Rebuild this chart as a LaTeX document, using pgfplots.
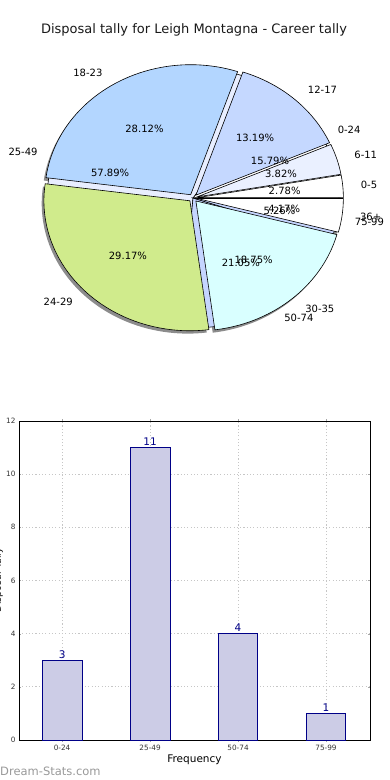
\documentclass[border=0pt]{standalone}
\usepackage{pgfplots}
\pgfplotsset{compat=1.18}
\usepackage{fontspec}
\setmainfont{DejaVu Sans}
\definecolor{cA}{RGB}{255,255,255}
\definecolor{cB}{RGB}{234,240,255}
\definecolor{cC}{RGB}{197,216,255}
\definecolor{cD}{RGB}{179,214,255}
\definecolor{cE}{RGB}{208,235,140}
\definecolor{cF}{RGB}{217,255,255}
\definecolor{cG}{RGB}{255,255,255}
\definecolor{fA}{RGB}{255,255,255}
\definecolor{fB}{RGB}{232,238,255}
\definecolor{fC}{RGB}{197,213,255}
\definecolor{fD}{RGB}{197,213,255}
\definecolor{barfill}{RGB}{204,204,230}
\definecolor{navyc}{RGB}{0,0,135}
% wedge: start, end, fill, explode
\newcommand\wedgeplot[4]{%
  \addplot[fill=#3, draw=black, line width=0.6pt, domain=#1:#2, samples=50, variable=\t]
    ({#4*cos((#1+#2)/2)+cos(\t)},{#4*sin((#1+#2)/2)+sin(\t)})
    -- (axis cs:{#4*cos((#1+#2)/2)},{#4*sin((#1+#2)/2)}) -- cycle;}
\newcommand\shadowplot[3]{%
  \addplot[fill=black, fill opacity=0.45, draw=none, domain=#1:#2, samples=50, variable=\t]
    ({#3*cos((#1+#2)/2)+cos(\t)-0.015},{#3*sin((#1+#2)/2)+sin(\t)-0.022})
    -- (axis cs:{#3*cos((#1+#2)/2)-0.015},{#3*sin((#1+#2)/2)-0.022}) -- cycle;}
\begin{document}
\begin{tikzpicture}
\useasboundingbox (0pt,0pt) rectangle (390pt,-780pt);
% age-group shares (percent)
\pgfmathsetmacro\aA{0}
\pgfmathsetmacro\aB{\aA+3.6*2.78}
\pgfmathsetmacro\aC{\aB+3.6*3.82}
\pgfmathsetmacro\aD{\aC+3.6*13.19}
\pgfmathsetmacro\aE{\aD+3.6*28.12}
\pgfmathsetmacro\aF{\aE+3.6*29.17}
\pgfmathsetmacro\aG{\aF+3.6*18.75}
\pgfmathsetmacro\aH{\aG+3.6*4.17}
% frequency shares (percent)
\pgfmathsetmacro\bA{0}
\pgfmathsetmacro\bB{\bA+3.6*15.79}
\pgfmathsetmacro\bC{\bB+3.6*57.89}
\pgfmathsetmacro\bD{\bC+3.6*21.05}
\pgfmathsetmacro\bE{\bD+3.6*5.26}
\node[font=\fontsize{13}{15}\selectfont, text=black!90] at (194pt,-30pt) {Disposal tally for Leigh Montagna - Career tally};
\begin{axis}[at={(3.2pt,-367pt)}, anchor=south west, scale only axis, width=379.6pt, height=338pt,
  xmin=-1.3, xmax=1.3, ymin=-1.3, ymax=1.3, axis lines=none, clip=false,
  every node/.append style={font=\fontsize{10.3}{12}\selectfont, text=black!90}]
\shadowplot{\aA}{\aB}{0.03}
\shadowplot{\aB}{\aC}{0.03}
\shadowplot{\aC}{\aD}{0.03}
\shadowplot{\aD}{\aE}{0.03}
\shadowplot{\aE}{\aF}{0.03}
\shadowplot{\aF}{\aG}{0.03}
\shadowplot{\aG}{\aH}{0.03}
\wedgeplot{\bA}{\bB}{fA}{0}
\wedgeplot{\bB}{\bC}{fB}{0}
\wedgeplot{\bC}{\bD}{fC}{0}
\wedgeplot{\bD}{\bE}{fD}{0}
\wedgeplot{\aA}{\aB}{cA}{0.03}
\wedgeplot{\aB}{\aC}{cB}{0.03}
\wedgeplot{\aC}{\aD}{cC}{0.03}
\wedgeplot{\aD}{\aE}{cD}{0.03}
\wedgeplot{\aE}{\aF}{cE}{0.03}
\wedgeplot{\aF}{\aG}{cF}{0.03}
\wedgeplot{\aG}{\aH}{cG}{0.03}
% age labels
\node[anchor=west] at (axis cs:{1.13*cos((\aA+\aB)/2)},{1.13*sin((\aA+\aB)/2)}) {0-5};
\node[anchor=west] at (axis cs:{1.13*cos((\aB+\aC)/2)},{1.13*sin((\aB+\aC)/2)}) {6-11};
\node[anchor=west] at (axis cs:{1.13*cos((\aC+\aD)/2)},{1.13*sin((\aC+\aD)/2)}) {12-17};
\node[anchor=east] at (axis cs:{1.13*cos((\aD+\aE)/2)},{1.13*sin((\aD+\aE)/2)}) {18-23};
\node[anchor=east] at (axis cs:{1.13*cos((\aE+\aF)/2)},{1.13*sin((\aE+\aF)/2)}) {24-29};
\node[anchor=west] at (axis cs:{1.13*cos((\aF+\aG)/2)},{1.13*sin((\aF+\aG)/2)}) {30-35};
\node[anchor=west] at (axis cs:{1.13*cos((\aG+\aH)/2)},{1.13*sin((\aG+\aH)/2)}) {36+};
\node at (axis cs:{0.63*cos((\aA+\aB)/2)},{0.63*sin((\aA+\aB)/2)}) {2.78\%};
\node at (axis cs:{0.63*cos((\aB+\aC)/2)},{0.63*sin((\aB+\aC)/2)}) {3.82\%};
\node at (axis cs:{0.63*cos((\aC+\aD)/2)},{0.63*sin((\aC+\aD)/2)}) {13.19\%};
\node at (axis cs:{0.63*cos((\aD+\aE)/2)},{0.63*sin((\aD+\aE)/2)}) {28.12\%};
\node at (axis cs:{0.63*cos((\aE+\aF)/2)},{0.63*sin((\aE+\aF)/2)}) {29.17\%};
\node at (axis cs:{0.63*cos((\aF+\aG)/2)},{0.63*sin((\aF+\aG)/2)}) {18.75\%};
\node at (axis cs:{0.63*cos((\aG+\aH)/2)},{0.63*sin((\aG+\aH)/2)}) {4.17\%};
% frequency labels
\node[anchor=west] at (axis cs:{1.1*cos((\bA+\bB)/2)},{1.1*sin((\bA+\bB)/2)}) {0-24};
\node[anchor=east] at (axis cs:{1.1*cos((\bB+\bC)/2)},{1.1*sin((\bB+\bC)/2)}) {25-49};
\node[anchor=west] at (axis cs:{1.1*cos((\bC+\bD)/2)},{1.1*sin((\bC+\bD)/2)}) {50-74};
\node[anchor=west] at (axis cs:{1.1*cos((\bD+\bE)/2)},{1.1*sin((\bD+\bE)/2)}) {75-99};
\node at (axis cs:{0.6*cos((\bA+\bB)/2)},{0.6*sin((\bA+\bB)/2)}) {15.79\%};
\node at (axis cs:{0.6*cos((\bB+\bC)/2)},{0.6*sin((\bB+\bC)/2)}) {57.89\%};
\node at (axis cs:{0.6*cos((\bC+\bD)/2)},{0.6*sin((\bC+\bD)/2)}) {21.05\%};
\node at (axis cs:{0.6*cos((\bD+\bE)/2)},{0.6*sin((\bD+\bE)/2)}) {5.26\%};
\end{axis}
\begin{axis}[at={(19pt,-740pt)}, anchor=south west, scale only axis, width=351pt, height=319pt,
  xmin=-0.49, xmax=3.5, ymin=0, ymax=12, ytick={0,2,...,12},
  xtick=data, xticklabels={0-24,25-49,50-74,75-99},
  ybar, bar width=0.45,
  grid=major, grid style={dash pattern=on 1.1pt off 2.2pt, gray!45, line width=1pt},
  tick label style={font=\fontsize{7.3}{8}\selectfont, text=black!80},
  /pgf/number format/assume math mode=true,
  xlabel={Frequency}, xlabel style={font=\fontsize{10.5}{12}\selectfont, yshift=3pt},
  nodes near coords, nodes near coords style={font=\fontsize{10.5}{12}\selectfont, text=navyc, yshift=-2pt},
  axis line style={black, line width=0.8pt}, tick style={gray!70}, major tick length=2pt]
\addplot[fill=barfill, draw=navyc, line width=0.7pt] coordinates {(0,3) (1,11) (2,4) (3,1)};
\end{axis}
\node[rotate=90, anchor=base, font=\fontsize{9.5}{11}\selectfont] at (1pt,-580pt) {Disposal Tally};
\node[anchor=west, font=\fontsize{11.5}{13}\selectfont, text=black!40, inner sep=0pt] at (0pt,-771pt) {Dream-Stats.com};
\end{tikzpicture}
\end{document}
